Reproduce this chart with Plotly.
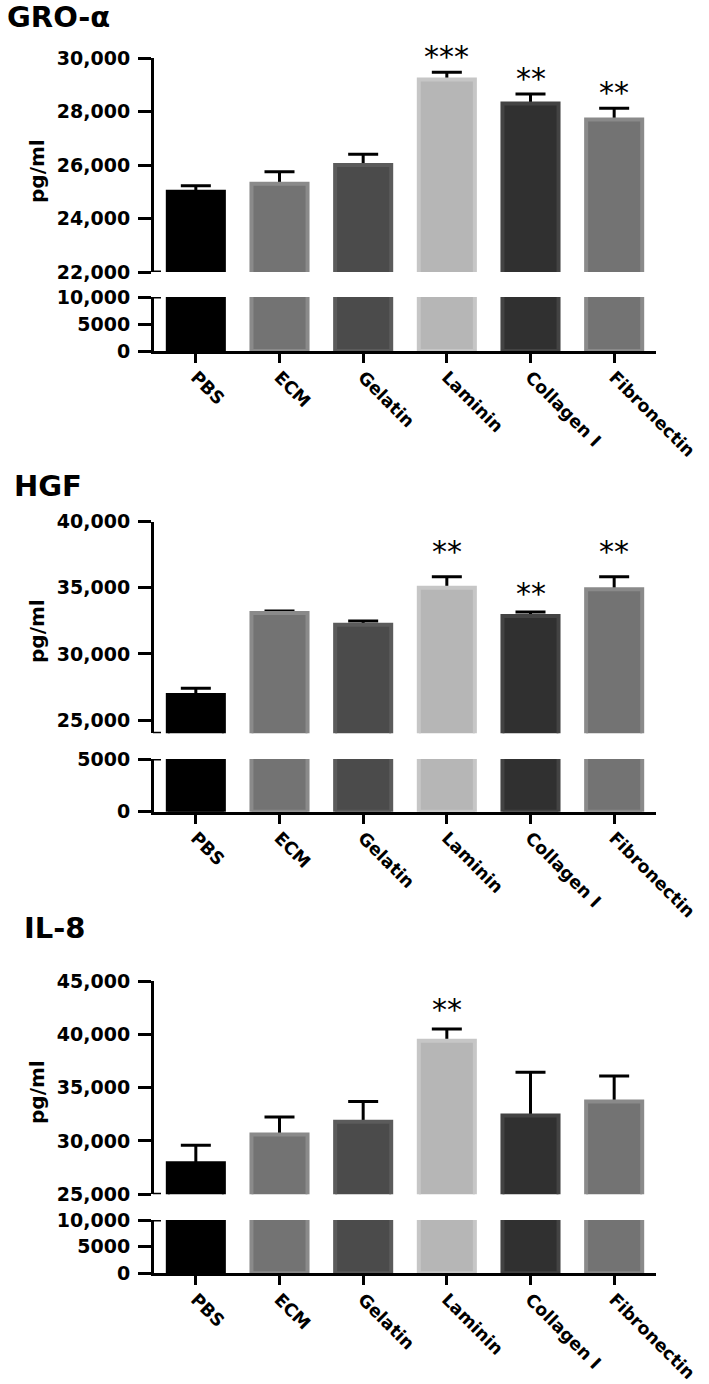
import plotly.graph_objects as go

# ---------------- data ----------------
categories = ["PBS", "ECM", "Gelatin", "Laminin", "Collagen I", "Fibronectin"]

gro_values = [25000, 25300, 26000, 29200, 28300, 27700]
gro_errors = [220, 450, 400, 265, 350, 420]
gro_stars = ["", "", "", "***", "**", "**"]

hgf_values = [26900, 33100, 32200, 35000, 32870, 34900]
hgf_errors = [500, 150, 300, 840, 300, 930]
hgf_stars = ["", "", "", "**", "**", "**"]

il8_values = [27900, 30600, 31800, 39400, 32400, 33700]
il8_errors = [1700, 1650, 1900, 1100, 4050, 2400]
il8_stars = ["", "", "", "**", "", ""]

titles = ["GRO-α", "HGF", "IL-8"]
y_label = "pg/ml"

gro_upper_ticks = [22000, 24000, 26000, 28000, 30000]
gro_upper_text = ["22,000", "24,000", "26,000", "28,000", "30,000"]
gro_lower_ticks = [0, 5000, 10000]
gro_lower_text = ["0", "5000", "10,000"]

hgf_upper_ticks = [25000, 30000, 35000, 40000]
hgf_upper_text = ["25,000", "30,000", "35,000", "40,000"]
hgf_lower_ticks = [0, 5000]
hgf_lower_text = ["0", "5000"]

il8_upper_ticks = [25000, 30000, 35000, 40000, 45000]
il8_upper_text = ["25,000", "30,000", "35,000", "40,000", "45,000"]
il8_lower_ticks = [0, 5000, 10000]
il8_lower_text = ["0", "5000", "10,000"]

# axis ranges (broken axes)
gro_upper_range = [22000, 30000]
gro_lower_range = [0, 10000]
hgf_upper_range = [24000, 40000]
hgf_lower_range = [0, 5000]
il8_upper_range = [25000, 45000]
il8_lower_range = [0, 10000]

# ---------------- style ----------------
fill_colors = ["#000000", "#737373", "#4b4b4b", "#b6b6b6", "#303030", "#737373"]
edge_colors = ["#000000", "#8a8a8a", "#5b5b5b", "#c6c6c6", "#434343", "#8a8a8a"]

W, H = 709, 1384
FONT = "DejaVu Sans"
X_LEFT, X_RIGHT = 154, 656
BAR_W = 0.67


def fy(py):
    return 1 - py / H


panels = [
    dict(values=gro_values, errors=gro_errors, stars=gro_stars, title=titles[0],
         up_ticks=gro_upper_ticks, up_text=gro_upper_text, lo_ticks=gro_lower_ticks, lo_text=gro_lower_text,
         up_range=gro_upper_range, lo_range=gro_lower_range,
         up_px=(272, 58), lo_px=(351, 297), title_xy=(5, 17), ylab_y=171, star_shift=[16] * 6),
    dict(values=hgf_values, errors=hgf_errors, stars=hgf_stars, title=titles[1],
         up_ticks=hgf_upper_ticks, up_text=hgf_upper_text, lo_ticks=hgf_lower_ticks, lo_text=hgf_lower_text,
         up_range=hgf_upper_range, lo_range=hgf_lower_range,
         up_px=(733.3, 521.7), lo_px=(811.7, 759), title_xy=(12, 486), ylab_y=631, star_shift=[20, 20, 20, 25, 19, 25]),
    dict(values=il8_values, errors=il8_errors, stars=il8_stars, title=titles[2],
         up_ticks=il8_upper_ticks, up_text=il8_upper_text, lo_ticks=il8_lower_ticks, lo_text=il8_lower_text,
         up_range=il8_upper_range, lo_range=il8_lower_range,
         up_px=(1194.3, 981), lo_px=(1273.3, 1220), title_xy=(22, 928), ylab_y=1092, star_shift=[19] * 6),
]

fig = go.Figure()
layout = dict(
    width=W, height=H, margin=dict(l=0, r=0, t=0, b=0, autoexpand=False),
    paper_bgcolor="white", plot_bgcolor="white", showlegend=False, barmode="overlay",
    font=dict(family=FONT, color="black"), hovermode=False,
)
annotations = []
shapes = []

tickfont = dict(family=FONT, size=19, color="black", weight="bold")

for i, p in enumerate(panels):
    xn = "x" if i == 0 else f"x{i + 1}"
    yu = "y" if i == 0 else f"y{2 * i + 1}"
    yl = f"y{2 * i + 2}"
    xk = "xaxis" if i == 0 else f"xaxis{i + 1}"
    yuk = "yaxis" if i == 0 else f"yaxis{2 * i + 1}"
    ylk = f"yaxis{2 * i + 2}"

    # error bars (drawn under the bars so only the upper half shows)
    fig.add_trace(go.Bar(
        x=categories, y=p["values"], xaxis=xn, yaxis=yu, width=BAR_W,
        marker=dict(color="rgba(0,0,0,0)", line=dict(width=0)),
        error_y=dict(type="data", array=p["errors"], thickness=3, width=15, color="black"),
    ))
    # upper part
    fig.add_trace(go.Bar(
        x=categories, y=p["values"], xaxis=xn, yaxis=yu, width=BAR_W,
        marker=dict(color=fill_colors, line=dict(color=edge_colors, width=4)),
    ))
    # lower part
    fig.add_trace(go.Bar(
        x=categories, y=p["values"], xaxis=xn, yaxis=yl, width=BAR_W,
        marker=dict(color=fill_colors, line=dict(color=edge_colors, width=4)),
    ))

    layout[xk] = dict(
        domain=[X_LEFT / W, X_RIGHT / W], anchor=yl, range=[-0.5, 5.5], automargin=False,
        showline=True, linecolor="black", linewidth=3, ticks="outside", ticklen=9, tickwidth=3,
        tickcolor="black", tickangle=45, tickfont=dict(family=FONT, size=17.5, color="black", weight="bold"),
        showgrid=False, zeroline=False, fixedrange=True, ticklabelstandoff=-3,
    )
    layout[yuk] = dict(
        domain=[fy(p["up_px"][0]), fy(p["up_px"][1])], anchor=xn, range=p["up_range"], automargin=False,
        showline=True, linecolor="black", linewidth=3, ticks="outside", ticklen=13, tickwidth=3,
        tickcolor="black", tickvals=p["up_ticks"], ticktext=p["up_text"], tickfont=tickfont,
        showgrid=False, zeroline=False, ticklabelstandoff=4, fixedrange=True,
    )
    layout[ylk] = dict(
        domain=[fy(p["lo_px"][0]), fy(p["lo_px"][1])], anchor=xn, range=p["lo_range"], automargin=False,
        showline=True, linecolor="black", linewidth=3, ticks="outside", ticklen=13, tickwidth=3,
        tickcolor="black", tickvals=p["lo_ticks"], ticktext=p["lo_text"], tickfont=tickfont,
        showgrid=False, zeroline=False, ticklabelstandoff=4, fixedrange=True,
    )

    # break stubs
    for yref, yv in ((yu, p["up_range"][0]), (yl, p["lo_range"][1])):
        shapes.append(dict(type="line", xref="paper", yref=yref,
                           x0=(X_LEFT - 1) / W, x1=(X_LEFT + 7) / W, y0=yv, y1=yv,
                           line=dict(color="black", width=3)))

    # panel title
    annotations.append(dict(
        text=p["title"], xref="paper", yref="paper",
        x=p["title_xy"][0] / W, y=fy(p["title_xy"][1]), xanchor="left", yanchor="middle",
        showarrow=False, font=dict(family=FONT, size=29, color="black", weight="bold"),
    ))
    # y label
    annotations.append(dict(
        text=y_label, xref="paper", yref="paper", x=37 / W, y=fy(p["ylab_y"]),
        xanchor="center", yanchor="middle", textangle=-90, showarrow=False,
        font=dict(family=FONT, size=20, color="black", weight="bold"),
    ))
    # significance stars
    for c, v, e, s, sh in zip(categories, p["values"], p["errors"], p["stars"], p["star_shift"]):
        if s:
            annotations.append(dict(
                text=s, x=c, y=v + e, xref=xn, yref=yu, xanchor="center", yanchor="middle",
                yshift=sh, showarrow=False, font=dict(family=FONT, size=30, color="black"),
            ))

layout["annotations"] = annotations
layout["shapes"] = shapes
fig.update_layout(**layout)

fig.write_html("out.html", config={"displayModeBar": False, "staticPlot": True},
               post_script="document.body.style.margin='0';document.body.style.padding='0';")
